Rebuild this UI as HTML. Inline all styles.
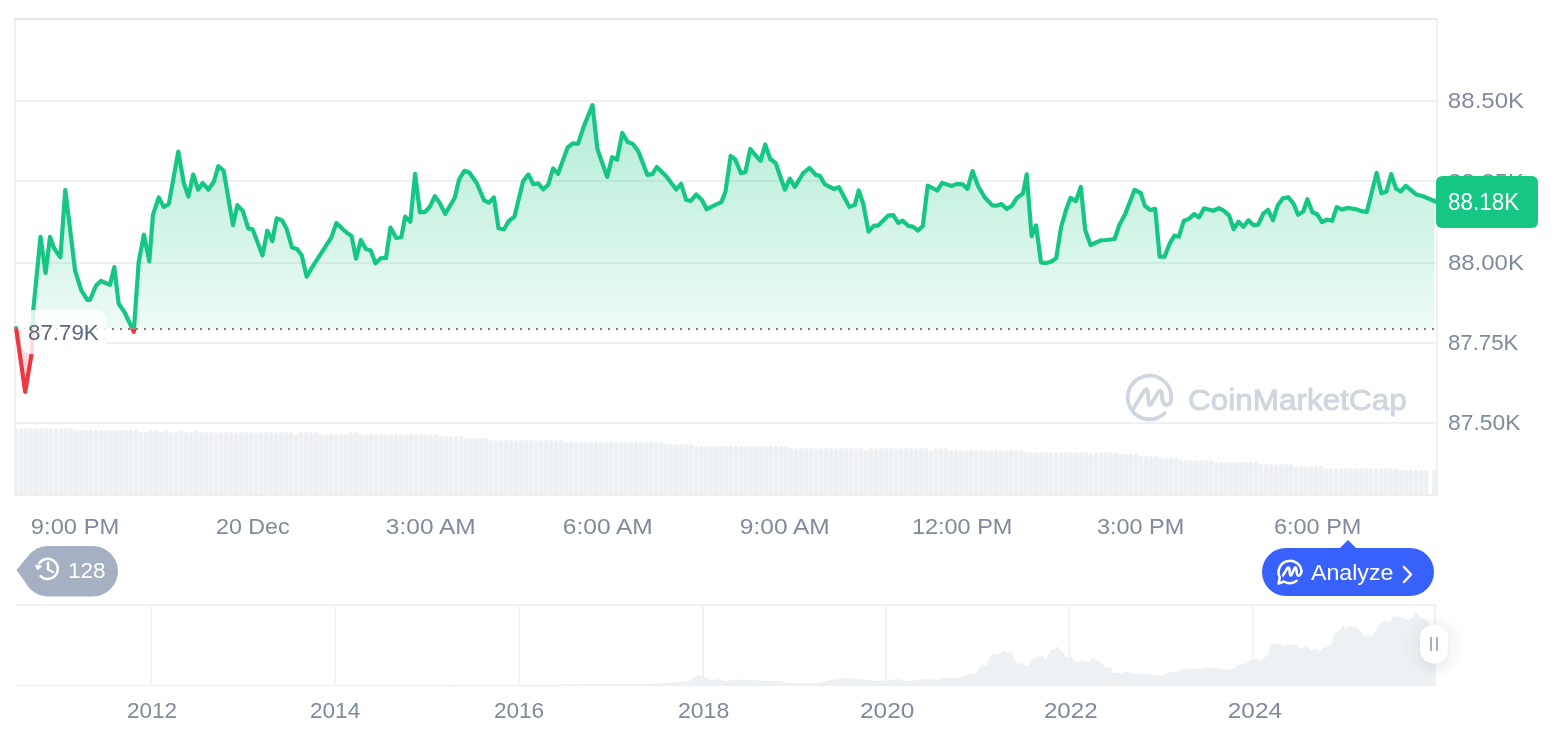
<!DOCTYPE html>
<html><head><meta charset="utf-8"><style>
html,body{margin:0;padding:0;background:#fff;width:1566px;height:732px;overflow:hidden}
svg{display:block;will-change:transform}
text{font-family:"Liberation Sans",sans-serif}
</style></head><body>
<svg width="1566" height="732" viewBox="0 0 1566 732">
<defs>
<linearGradient id="gg" gradientUnits="userSpaceOnUse" x1="0" y1="105" x2="0" y2="328.5">
<stop offset="0" stop-color="#16c784" stop-opacity="0.33"/>
<stop offset="1" stop-color="#16c784" stop-opacity="0.075"/>
</linearGradient>
<linearGradient id="rg" gradientUnits="userSpaceOnUse" x1="0" y1="328.5" x2="0" y2="395">
<stop offset="0" stop-color="#ea3943" stop-opacity="0.08"/>
<stop offset="1" stop-color="#ea3943" stop-opacity="0.3"/>
</linearGradient>
<clipPath id="plot"><rect x="16" y="0" width="1420" height="494"/></clipPath>
<clipPath id="above"><rect x="0" y="0" width="1566" height="328.5"/></clipPath>
<clipPath id="aboveF"><rect x="0" y="0" width="1434.5" height="328.5"/></clipPath>
<clipPath id="below"><rect x="0" y="328.5" width="1566" height="732"/></clipPath>
<radialGradient id="glow"><stop offset="0.4" stop-color="#8a96ab" stop-opacity="0.0"/><stop offset="0.8" stop-color="#8a96ab" stop-opacity="0.045"/><stop offset="1" stop-color="#8a96ab" stop-opacity="0"/></radialGradient>
<filter id="sh" x="-150%" y="-150%" width="400%" height="400%"><feDropShadow dx="0" dy="2" stdDeviation="5" flood-color="#58667e" flood-opacity="0.16"/></filter>
</defs>

<!-- chart frame -->
<rect x="14" y="18" width="2" height="477" fill="#f0f0f0"/>
<rect x="1436" y="18" width="2" height="477" fill="#f0f0f0"/>
<rect x="14" y="18" width="1424" height="2" fill="#e6e6e6"/>
<g fill="#eff0f1">
<rect x="16" y="100" width="1420" height="2"/>
<rect x="16" y="180" width="1420" height="2"/>
<rect x="16" y="262" width="1420" height="2"/>
<rect x="16" y="342" width="1420" height="2"/>
<rect x="16" y="422" width="1420" height="2"/>
</g>
<g fill="#eef1f4" clip-path="url(#plot)"><rect x="13.90" y="428.0" width="4.45" height="66.5" rx="1.9"/><rect x="13.90" y="431.0" width="4.45" height="63.5"/><rect x="18.90" y="428.0" width="4.45" height="66.5" rx="1.9"/><rect x="18.90" y="431.0" width="4.45" height="63.5"/><rect x="23.90" y="428.0" width="4.45" height="66.5" rx="1.9"/><rect x="23.90" y="431.0" width="4.45" height="63.5"/><rect x="28.90" y="428.0" width="4.45" height="66.5" rx="1.9"/><rect x="28.90" y="431.0" width="4.45" height="63.5"/><rect x="33.90" y="428.0" width="4.45" height="66.5" rx="1.9"/><rect x="33.90" y="431.0" width="4.45" height="63.5"/><rect x="38.90" y="428.0" width="4.45" height="66.5" rx="1.9"/><rect x="38.90" y="431.0" width="4.45" height="63.5"/><rect x="43.90" y="428.0" width="4.45" height="66.5" rx="1.9"/><rect x="43.90" y="431.0" width="4.45" height="63.5"/><rect x="48.90" y="428.0" width="4.45" height="66.5" rx="1.9"/><rect x="48.90" y="431.0" width="4.45" height="63.5"/><rect x="53.90" y="428.0" width="4.45" height="66.5" rx="1.9"/><rect x="53.90" y="431.0" width="4.45" height="63.5"/><rect x="58.90" y="428.0" width="4.45" height="66.5" rx="1.9"/><rect x="58.90" y="431.0" width="4.45" height="63.5"/><rect x="63.90" y="428.0" width="4.45" height="66.5" rx="1.9"/><rect x="63.90" y="431.0" width="4.45" height="63.5"/><rect x="68.90" y="428.0" width="4.45" height="66.5" rx="1.9"/><rect x="68.90" y="431.0" width="4.45" height="63.5"/><rect x="73.90" y="430.0" width="4.45" height="64.5" rx="1.9"/><rect x="73.90" y="433.0" width="4.45" height="61.5"/><rect x="78.90" y="430.0" width="4.45" height="64.5" rx="1.9"/><rect x="78.90" y="433.0" width="4.45" height="61.5"/><rect x="83.90" y="430.0" width="4.45" height="64.5" rx="1.9"/><rect x="83.90" y="433.0" width="4.45" height="61.5"/><rect x="88.90" y="430.0" width="4.45" height="64.5" rx="1.9"/><rect x="88.90" y="433.0" width="4.45" height="61.5"/><rect x="93.90" y="430.0" width="4.45" height="64.5" rx="1.9"/><rect x="93.90" y="433.0" width="4.45" height="61.5"/><rect x="98.90" y="430.0" width="4.45" height="64.5" rx="1.9"/><rect x="98.90" y="433.0" width="4.45" height="61.5"/><rect x="103.90" y="430.0" width="4.45" height="64.5" rx="1.9"/><rect x="103.90" y="433.0" width="4.45" height="61.5"/><rect x="108.90" y="430.0" width="4.45" height="64.5" rx="1.9"/><rect x="108.90" y="433.0" width="4.45" height="61.5"/><rect x="113.90" y="430.0" width="4.45" height="64.5" rx="1.9"/><rect x="113.90" y="433.0" width="4.45" height="61.5"/><rect x="118.90" y="430.0" width="4.45" height="64.5" rx="1.9"/><rect x="118.90" y="433.0" width="4.45" height="61.5"/><rect x="123.90" y="430.0" width="4.45" height="64.5" rx="1.9"/><rect x="123.90" y="433.0" width="4.45" height="61.5"/><rect x="128.90" y="430.0" width="4.45" height="64.5" rx="1.9"/><rect x="128.90" y="433.0" width="4.45" height="61.5"/><rect x="133.90" y="430.0" width="4.45" height="64.5" rx="1.9"/><rect x="133.90" y="433.0" width="4.45" height="61.5"/><rect x="138.90" y="432.0" width="4.45" height="62.5" rx="1.9"/><rect x="138.90" y="435.0" width="4.45" height="59.5"/><rect x="143.90" y="432.0" width="4.45" height="62.5" rx="1.9"/><rect x="143.90" y="435.0" width="4.45" height="59.5"/><rect x="148.90" y="430.0" width="4.45" height="64.5" rx="1.9"/><rect x="148.90" y="433.0" width="4.45" height="61.5"/><rect x="153.90" y="430.0" width="4.45" height="64.5" rx="1.9"/><rect x="153.90" y="433.0" width="4.45" height="61.5"/><rect x="158.90" y="432.0" width="4.45" height="62.5" rx="1.9"/><rect x="158.90" y="435.0" width="4.45" height="59.5"/><rect x="163.90" y="430.0" width="4.45" height="64.5" rx="1.9"/><rect x="163.90" y="433.0" width="4.45" height="61.5"/><rect x="168.90" y="432.0" width="4.45" height="62.5" rx="1.9"/><rect x="168.90" y="435.0" width="4.45" height="59.5"/><rect x="173.90" y="432.0" width="4.45" height="62.5" rx="1.9"/><rect x="173.90" y="435.0" width="4.45" height="59.5"/><rect x="178.90" y="430.0" width="4.45" height="64.5" rx="1.9"/><rect x="178.90" y="433.0" width="4.45" height="61.5"/><rect x="183.90" y="432.0" width="4.45" height="62.5" rx="1.9"/><rect x="183.90" y="435.0" width="4.45" height="59.5"/><rect x="188.90" y="432.0" width="4.45" height="62.5" rx="1.9"/><rect x="188.90" y="435.0" width="4.45" height="59.5"/><rect x="193.90" y="430.0" width="4.45" height="64.5" rx="1.9"/><rect x="193.90" y="433.0" width="4.45" height="61.5"/><rect x="198.90" y="432.0" width="4.45" height="62.5" rx="1.9"/><rect x="198.90" y="435.0" width="4.45" height="59.5"/><rect x="203.90" y="432.0" width="4.45" height="62.5" rx="1.9"/><rect x="203.90" y="435.0" width="4.45" height="59.5"/><rect x="208.90" y="432.0" width="4.45" height="62.5" rx="1.9"/><rect x="208.90" y="435.0" width="4.45" height="59.5"/><rect x="213.90" y="432.0" width="4.45" height="62.5" rx="1.9"/><rect x="213.90" y="435.0" width="4.45" height="59.5"/><rect x="218.90" y="432.0" width="4.45" height="62.5" rx="1.9"/><rect x="218.90" y="435.0" width="4.45" height="59.5"/><rect x="223.90" y="432.0" width="4.45" height="62.5" rx="1.9"/><rect x="223.90" y="435.0" width="4.45" height="59.5"/><rect x="228.90" y="432.0" width="4.45" height="62.5" rx="1.9"/><rect x="228.90" y="435.0" width="4.45" height="59.5"/><rect x="233.90" y="432.0" width="4.45" height="62.5" rx="1.9"/><rect x="233.90" y="435.0" width="4.45" height="59.5"/><rect x="238.90" y="432.0" width="4.45" height="62.5" rx="1.9"/><rect x="238.90" y="435.0" width="4.45" height="59.5"/><rect x="243.90" y="432.0" width="4.45" height="62.5" rx="1.9"/><rect x="243.90" y="435.0" width="4.45" height="59.5"/><rect x="248.90" y="432.0" width="4.45" height="62.5" rx="1.9"/><rect x="248.90" y="435.0" width="4.45" height="59.5"/><rect x="253.90" y="432.0" width="4.45" height="62.5" rx="1.9"/><rect x="253.90" y="435.0" width="4.45" height="59.5"/><rect x="258.90" y="432.0" width="4.45" height="62.5" rx="1.9"/><rect x="258.90" y="435.0" width="4.45" height="59.5"/><rect x="263.90" y="432.0" width="4.45" height="62.5" rx="1.9"/><rect x="263.90" y="435.0" width="4.45" height="59.5"/><rect x="268.90" y="432.0" width="4.45" height="62.5" rx="1.9"/><rect x="268.90" y="435.0" width="4.45" height="59.5"/><rect x="273.90" y="432.0" width="4.45" height="62.5" rx="1.9"/><rect x="273.90" y="435.0" width="4.45" height="59.5"/><rect x="278.90" y="432.0" width="4.45" height="62.5" rx="1.9"/><rect x="278.90" y="435.0" width="4.45" height="59.5"/><rect x="283.90" y="432.0" width="4.45" height="62.5" rx="1.9"/><rect x="283.90" y="435.0" width="4.45" height="59.5"/><rect x="288.90" y="432.0" width="4.45" height="62.5" rx="1.9"/><rect x="288.90" y="435.0" width="4.45" height="59.5"/><rect x="293.90" y="434.0" width="4.45" height="60.5" rx="1.9"/><rect x="293.90" y="437.0" width="4.45" height="57.5"/><rect x="298.90" y="432.0" width="4.45" height="62.5" rx="1.9"/><rect x="298.90" y="435.0" width="4.45" height="59.5"/><rect x="303.90" y="432.0" width="4.45" height="62.5" rx="1.9"/><rect x="303.90" y="435.0" width="4.45" height="59.5"/><rect x="308.90" y="432.0" width="4.45" height="62.5" rx="1.9"/><rect x="308.90" y="435.0" width="4.45" height="59.5"/><rect x="313.90" y="432.0" width="4.45" height="62.5" rx="1.9"/><rect x="313.90" y="435.0" width="4.45" height="59.5"/><rect x="318.90" y="434.0" width="4.45" height="60.5" rx="1.9"/><rect x="318.90" y="437.0" width="4.45" height="57.5"/><rect x="323.90" y="434.0" width="4.45" height="60.5" rx="1.9"/><rect x="323.90" y="437.0" width="4.45" height="57.5"/><rect x="328.90" y="434.0" width="4.45" height="60.5" rx="1.9"/><rect x="328.90" y="437.0" width="4.45" height="57.5"/><rect x="333.90" y="434.0" width="4.45" height="60.5" rx="1.9"/><rect x="333.90" y="437.0" width="4.45" height="57.5"/><rect x="338.90" y="434.0" width="4.45" height="60.5" rx="1.9"/><rect x="338.90" y="437.0" width="4.45" height="57.5"/><rect x="343.90" y="434.0" width="4.45" height="60.5" rx="1.9"/><rect x="343.90" y="437.0" width="4.45" height="57.5"/><rect x="348.90" y="432.0" width="4.45" height="62.5" rx="1.9"/><rect x="348.90" y="435.0" width="4.45" height="59.5"/><rect x="353.90" y="432.0" width="4.45" height="62.5" rx="1.9"/><rect x="353.90" y="435.0" width="4.45" height="59.5"/><rect x="358.90" y="434.0" width="4.45" height="60.5" rx="1.9"/><rect x="358.90" y="437.0" width="4.45" height="57.5"/><rect x="363.90" y="434.0" width="4.45" height="60.5" rx="1.9"/><rect x="363.90" y="437.0" width="4.45" height="57.5"/><rect x="368.90" y="434.0" width="4.45" height="60.5" rx="1.9"/><rect x="368.90" y="437.0" width="4.45" height="57.5"/><rect x="373.90" y="434.0" width="4.45" height="60.5" rx="1.9"/><rect x="373.90" y="437.0" width="4.45" height="57.5"/><rect x="378.90" y="434.0" width="4.45" height="60.5" rx="1.9"/><rect x="378.90" y="437.0" width="4.45" height="57.5"/><rect x="383.90" y="434.0" width="4.45" height="60.5" rx="1.9"/><rect x="383.90" y="437.0" width="4.45" height="57.5"/><rect x="388.90" y="434.0" width="4.45" height="60.5" rx="1.9"/><rect x="388.90" y="437.0" width="4.45" height="57.5"/><rect x="393.90" y="434.0" width="4.45" height="60.5" rx="1.9"/><rect x="393.90" y="437.0" width="4.45" height="57.5"/><rect x="398.90" y="434.0" width="4.45" height="60.5" rx="1.9"/><rect x="398.90" y="437.0" width="4.45" height="57.5"/><rect x="403.90" y="434.0" width="4.45" height="60.5" rx="1.9"/><rect x="403.90" y="437.0" width="4.45" height="57.5"/><rect x="408.90" y="434.0" width="4.45" height="60.5" rx="1.9"/><rect x="408.90" y="437.0" width="4.45" height="57.5"/><rect x="413.90" y="434.0" width="4.45" height="60.5" rx="1.9"/><rect x="413.90" y="437.0" width="4.45" height="57.5"/><rect x="418.90" y="434.0" width="4.45" height="60.5" rx="1.9"/><rect x="418.90" y="437.0" width="4.45" height="57.5"/><rect x="423.90" y="434.0" width="4.45" height="60.5" rx="1.9"/><rect x="423.90" y="437.0" width="4.45" height="57.5"/><rect x="428.90" y="434.0" width="4.45" height="60.5" rx="1.9"/><rect x="428.90" y="437.0" width="4.45" height="57.5"/><rect x="433.90" y="434.0" width="4.45" height="60.5" rx="1.9"/><rect x="433.90" y="437.0" width="4.45" height="57.5"/><rect x="438.90" y="436.0" width="4.45" height="58.5" rx="1.9"/><rect x="438.90" y="439.0" width="4.45" height="55.5"/><rect x="443.90" y="436.0" width="4.45" height="58.5" rx="1.9"/><rect x="443.90" y="439.0" width="4.45" height="55.5"/><rect x="448.90" y="436.0" width="4.45" height="58.5" rx="1.9"/><rect x="448.90" y="439.0" width="4.45" height="55.5"/><rect x="453.90" y="436.0" width="4.45" height="58.5" rx="1.9"/><rect x="453.90" y="439.0" width="4.45" height="55.5"/><rect x="458.90" y="436.0" width="4.45" height="58.5" rx="1.9"/><rect x="458.90" y="439.0" width="4.45" height="55.5"/><rect x="463.90" y="438.0" width="4.45" height="56.5" rx="1.9"/><rect x="463.90" y="441.0" width="4.45" height="53.5"/><rect x="468.90" y="438.0" width="4.45" height="56.5" rx="1.9"/><rect x="468.90" y="441.0" width="4.45" height="53.5"/><rect x="473.90" y="438.0" width="4.45" height="56.5" rx="1.9"/><rect x="473.90" y="441.0" width="4.45" height="53.5"/><rect x="478.90" y="438.0" width="4.45" height="56.5" rx="1.9"/><rect x="478.90" y="441.0" width="4.45" height="53.5"/><rect x="483.90" y="438.0" width="4.45" height="56.5" rx="1.9"/><rect x="483.90" y="441.0" width="4.45" height="53.5"/><rect x="488.90" y="440.0" width="4.45" height="54.5" rx="1.9"/><rect x="488.90" y="443.0" width="4.45" height="51.5"/><rect x="493.90" y="440.0" width="4.45" height="54.5" rx="1.9"/><rect x="493.90" y="443.0" width="4.45" height="51.5"/><rect x="498.90" y="440.0" width="4.45" height="54.5" rx="1.9"/><rect x="498.90" y="443.0" width="4.45" height="51.5"/><rect x="503.90" y="440.0" width="4.45" height="54.5" rx="1.9"/><rect x="503.90" y="443.0" width="4.45" height="51.5"/><rect x="508.90" y="440.0" width="4.45" height="54.5" rx="1.9"/><rect x="508.90" y="443.0" width="4.45" height="51.5"/><rect x="513.90" y="440.0" width="4.45" height="54.5" rx="1.9"/><rect x="513.90" y="443.0" width="4.45" height="51.5"/><rect x="518.90" y="440.0" width="4.45" height="54.5" rx="1.9"/><rect x="518.90" y="443.0" width="4.45" height="51.5"/><rect x="523.90" y="440.0" width="4.45" height="54.5" rx="1.9"/><rect x="523.90" y="443.0" width="4.45" height="51.5"/><rect x="528.90" y="440.0" width="4.45" height="54.5" rx="1.9"/><rect x="528.90" y="443.0" width="4.45" height="51.5"/><rect x="533.90" y="440.0" width="4.45" height="54.5" rx="1.9"/><rect x="533.90" y="443.0" width="4.45" height="51.5"/><rect x="538.90" y="440.0" width="4.45" height="54.5" rx="1.9"/><rect x="538.90" y="443.0" width="4.45" height="51.5"/><rect x="543.90" y="440.0" width="4.45" height="54.5" rx="1.9"/><rect x="543.90" y="443.0" width="4.45" height="51.5"/><rect x="548.90" y="440.0" width="4.45" height="54.5" rx="1.9"/><rect x="548.90" y="443.0" width="4.45" height="51.5"/><rect x="553.90" y="440.0" width="4.45" height="54.5" rx="1.9"/><rect x="553.90" y="443.0" width="4.45" height="51.5"/><rect x="558.90" y="440.0" width="4.45" height="54.5" rx="1.9"/><rect x="558.90" y="443.0" width="4.45" height="51.5"/><rect x="563.90" y="442.0" width="4.45" height="52.5" rx="1.9"/><rect x="563.90" y="445.0" width="4.45" height="49.5"/><rect x="568.90" y="442.0" width="4.45" height="52.5" rx="1.9"/><rect x="568.90" y="445.0" width="4.45" height="49.5"/><rect x="573.90" y="442.0" width="4.45" height="52.5" rx="1.9"/><rect x="573.90" y="445.0" width="4.45" height="49.5"/><rect x="578.90" y="442.0" width="4.45" height="52.5" rx="1.9"/><rect x="578.90" y="445.0" width="4.45" height="49.5"/><rect x="583.90" y="442.0" width="4.45" height="52.5" rx="1.9"/><rect x="583.90" y="445.0" width="4.45" height="49.5"/><rect x="588.90" y="442.0" width="4.45" height="52.5" rx="1.9"/><rect x="588.90" y="445.0" width="4.45" height="49.5"/><rect x="593.90" y="442.0" width="4.45" height="52.5" rx="1.9"/><rect x="593.90" y="445.0" width="4.45" height="49.5"/><rect x="598.90" y="442.0" width="4.45" height="52.5" rx="1.9"/><rect x="598.90" y="445.0" width="4.45" height="49.5"/><rect x="603.90" y="442.0" width="4.45" height="52.5" rx="1.9"/><rect x="603.90" y="445.0" width="4.45" height="49.5"/><rect x="608.90" y="442.0" width="4.45" height="52.5" rx="1.9"/><rect x="608.90" y="445.0" width="4.45" height="49.5"/><rect x="613.90" y="442.0" width="4.45" height="52.5" rx="1.9"/><rect x="613.90" y="445.0" width="4.45" height="49.5"/><rect x="618.90" y="442.0" width="4.45" height="52.5" rx="1.9"/><rect x="618.90" y="445.0" width="4.45" height="49.5"/><rect x="623.90" y="442.0" width="4.45" height="52.5" rx="1.9"/><rect x="623.90" y="445.0" width="4.45" height="49.5"/><rect x="628.90" y="442.0" width="4.45" height="52.5" rx="1.9"/><rect x="628.90" y="445.0" width="4.45" height="49.5"/><rect x="633.90" y="442.0" width="4.45" height="52.5" rx="1.9"/><rect x="633.90" y="445.0" width="4.45" height="49.5"/><rect x="638.90" y="442.0" width="4.45" height="52.5" rx="1.9"/><rect x="638.90" y="445.0" width="4.45" height="49.5"/><rect x="643.90" y="442.0" width="4.45" height="52.5" rx="1.9"/><rect x="643.90" y="445.0" width="4.45" height="49.5"/><rect x="648.90" y="442.0" width="4.45" height="52.5" rx="1.9"/><rect x="648.90" y="445.0" width="4.45" height="49.5"/><rect x="653.90" y="442.0" width="4.45" height="52.5" rx="1.9"/><rect x="653.90" y="445.0" width="4.45" height="49.5"/><rect x="658.90" y="442.0" width="4.45" height="52.5" rx="1.9"/><rect x="658.90" y="445.0" width="4.45" height="49.5"/><rect x="663.90" y="444.0" width="4.45" height="50.5" rx="1.9"/><rect x="663.90" y="447.0" width="4.45" height="47.5"/><rect x="668.90" y="444.0" width="4.45" height="50.5" rx="1.9"/><rect x="668.90" y="447.0" width="4.45" height="47.5"/><rect x="673.90" y="444.0" width="4.45" height="50.5" rx="1.9"/><rect x="673.90" y="447.0" width="4.45" height="47.5"/><rect x="678.90" y="444.0" width="4.45" height="50.5" rx="1.9"/><rect x="678.90" y="447.0" width="4.45" height="47.5"/><rect x="683.90" y="444.0" width="4.45" height="50.5" rx="1.9"/><rect x="683.90" y="447.0" width="4.45" height="47.5"/><rect x="688.90" y="444.0" width="4.45" height="50.5" rx="1.9"/><rect x="688.90" y="447.0" width="4.45" height="47.5"/><rect x="693.90" y="446.0" width="4.45" height="48.5" rx="1.9"/><rect x="693.90" y="449.0" width="4.45" height="45.5"/><rect x="698.90" y="446.0" width="4.45" height="48.5" rx="1.9"/><rect x="698.90" y="449.0" width="4.45" height="45.5"/><rect x="703.90" y="446.0" width="4.45" height="48.5" rx="1.9"/><rect x="703.90" y="449.0" width="4.45" height="45.5"/><rect x="708.90" y="446.0" width="4.45" height="48.5" rx="1.9"/><rect x="708.90" y="449.0" width="4.45" height="45.5"/><rect x="713.90" y="446.0" width="4.45" height="48.5" rx="1.9"/><rect x="713.90" y="449.0" width="4.45" height="45.5"/><rect x="718.90" y="446.0" width="4.45" height="48.5" rx="1.9"/><rect x="718.90" y="449.0" width="4.45" height="45.5"/><rect x="723.90" y="446.0" width="4.45" height="48.5" rx="1.9"/><rect x="723.90" y="449.0" width="4.45" height="45.5"/><rect x="728.90" y="446.0" width="4.45" height="48.5" rx="1.9"/><rect x="728.90" y="449.0" width="4.45" height="45.5"/><rect x="733.90" y="446.0" width="4.45" height="48.5" rx="1.9"/><rect x="733.90" y="449.0" width="4.45" height="45.5"/><rect x="738.90" y="446.0" width="4.45" height="48.5" rx="1.9"/><rect x="738.90" y="449.0" width="4.45" height="45.5"/><rect x="743.90" y="446.0" width="4.45" height="48.5" rx="1.9"/><rect x="743.90" y="449.0" width="4.45" height="45.5"/><rect x="748.90" y="446.0" width="4.45" height="48.5" rx="1.9"/><rect x="748.90" y="449.0" width="4.45" height="45.5"/><rect x="753.90" y="446.0" width="4.45" height="48.5" rx="1.9"/><rect x="753.90" y="449.0" width="4.45" height="45.5"/><rect x="758.90" y="446.0" width="4.45" height="48.5" rx="1.9"/><rect x="758.90" y="449.0" width="4.45" height="45.5"/><rect x="763.90" y="446.0" width="4.45" height="48.5" rx="1.9"/><rect x="763.90" y="449.0" width="4.45" height="45.5"/><rect x="768.90" y="446.0" width="4.45" height="48.5" rx="1.9"/><rect x="768.90" y="449.0" width="4.45" height="45.5"/><rect x="773.90" y="446.0" width="4.45" height="48.5" rx="1.9"/><rect x="773.90" y="449.0" width="4.45" height="45.5"/><rect x="778.90" y="446.0" width="4.45" height="48.5" rx="1.9"/><rect x="778.90" y="449.0" width="4.45" height="45.5"/><rect x="783.90" y="446.0" width="4.45" height="48.5" rx="1.9"/><rect x="783.90" y="449.0" width="4.45" height="45.5"/><rect x="788.90" y="448.0" width="4.45" height="46.5" rx="1.9"/><rect x="788.90" y="451.0" width="4.45" height="43.5"/><rect x="793.90" y="448.0" width="4.45" height="46.5" rx="1.9"/><rect x="793.90" y="451.0" width="4.45" height="43.5"/><rect x="798.90" y="448.0" width="4.45" height="46.5" rx="1.9"/><rect x="798.90" y="451.0" width="4.45" height="43.5"/><rect x="803.90" y="448.0" width="4.45" height="46.5" rx="1.9"/><rect x="803.90" y="451.0" width="4.45" height="43.5"/><rect x="808.90" y="448.0" width="4.45" height="46.5" rx="1.9"/><rect x="808.90" y="451.0" width="4.45" height="43.5"/><rect x="813.90" y="448.0" width="4.45" height="46.5" rx="1.9"/><rect x="813.90" y="451.0" width="4.45" height="43.5"/><rect x="818.90" y="448.0" width="4.45" height="46.5" rx="1.9"/><rect x="818.90" y="451.0" width="4.45" height="43.5"/><rect x="823.90" y="448.0" width="4.45" height="46.5" rx="1.9"/><rect x="823.90" y="451.0" width="4.45" height="43.5"/><rect x="828.90" y="448.0" width="4.45" height="46.5" rx="1.9"/><rect x="828.90" y="451.0" width="4.45" height="43.5"/><rect x="833.90" y="448.0" width="4.45" height="46.5" rx="1.9"/><rect x="833.90" y="451.0" width="4.45" height="43.5"/><rect x="838.90" y="448.0" width="4.45" height="46.5" rx="1.9"/><rect x="838.90" y="451.0" width="4.45" height="43.5"/><rect x="843.90" y="448.0" width="4.45" height="46.5" rx="1.9"/><rect x="843.90" y="451.0" width="4.45" height="43.5"/><rect x="848.90" y="448.0" width="4.45" height="46.5" rx="1.9"/><rect x="848.90" y="451.0" width="4.45" height="43.5"/><rect x="853.90" y="448.0" width="4.45" height="46.5" rx="1.9"/><rect x="853.90" y="451.0" width="4.45" height="43.5"/><rect x="858.90" y="448.0" width="4.45" height="46.5" rx="1.9"/><rect x="858.90" y="451.0" width="4.45" height="43.5"/><rect x="863.90" y="450.0" width="4.45" height="44.5" rx="1.9"/><rect x="863.90" y="453.0" width="4.45" height="41.5"/><rect x="868.90" y="448.0" width="4.45" height="46.5" rx="1.9"/><rect x="868.90" y="451.0" width="4.45" height="43.5"/><rect x="873.90" y="448.0" width="4.45" height="46.5" rx="1.9"/><rect x="873.90" y="451.0" width="4.45" height="43.5"/><rect x="878.90" y="448.0" width="4.45" height="46.5" rx="1.9"/><rect x="878.90" y="451.0" width="4.45" height="43.5"/><rect x="883.90" y="448.0" width="4.45" height="46.5" rx="1.9"/><rect x="883.90" y="451.0" width="4.45" height="43.5"/><rect x="888.90" y="448.0" width="4.45" height="46.5" rx="1.9"/><rect x="888.90" y="451.0" width="4.45" height="43.5"/><rect x="893.90" y="448.0" width="4.45" height="46.5" rx="1.9"/><rect x="893.90" y="451.0" width="4.45" height="43.5"/><rect x="898.90" y="448.0" width="4.45" height="46.5" rx="1.9"/><rect x="898.90" y="451.0" width="4.45" height="43.5"/><rect x="903.90" y="448.0" width="4.45" height="46.5" rx="1.9"/><rect x="903.90" y="451.0" width="4.45" height="43.5"/><rect x="908.90" y="448.0" width="4.45" height="46.5" rx="1.9"/><rect x="908.90" y="451.0" width="4.45" height="43.5"/><rect x="913.90" y="448.0" width="4.45" height="46.5" rx="1.9"/><rect x="913.90" y="451.0" width="4.45" height="43.5"/><rect x="918.90" y="448.0" width="4.45" height="46.5" rx="1.9"/><rect x="918.90" y="451.0" width="4.45" height="43.5"/><rect x="923.90" y="448.0" width="4.45" height="46.5" rx="1.9"/><rect x="923.90" y="451.0" width="4.45" height="43.5"/><rect x="928.90" y="450.0" width="4.45" height="44.5" rx="1.9"/><rect x="928.90" y="453.0" width="4.45" height="41.5"/><rect x="933.90" y="448.0" width="4.45" height="46.5" rx="1.9"/><rect x="933.90" y="451.0" width="4.45" height="43.5"/><rect x="938.90" y="448.0" width="4.45" height="46.5" rx="1.9"/><rect x="938.90" y="451.0" width="4.45" height="43.5"/><rect x="943.90" y="448.0" width="4.45" height="46.5" rx="1.9"/><rect x="943.90" y="451.0" width="4.45" height="43.5"/><rect x="948.90" y="450.0" width="4.45" height="44.5" rx="1.9"/><rect x="948.90" y="453.0" width="4.45" height="41.5"/><rect x="953.90" y="450.0" width="4.45" height="44.5" rx="1.9"/><rect x="953.90" y="453.0" width="4.45" height="41.5"/><rect x="958.90" y="450.0" width="4.45" height="44.5" rx="1.9"/><rect x="958.90" y="453.0" width="4.45" height="41.5"/><rect x="963.90" y="450.0" width="4.45" height="44.5" rx="1.9"/><rect x="963.90" y="453.0" width="4.45" height="41.5"/><rect x="968.90" y="450.0" width="4.45" height="44.5" rx="1.9"/><rect x="968.90" y="453.0" width="4.45" height="41.5"/><rect x="973.90" y="450.0" width="4.45" height="44.5" rx="1.9"/><rect x="973.90" y="453.0" width="4.45" height="41.5"/><rect x="978.90" y="450.0" width="4.45" height="44.5" rx="1.9"/><rect x="978.90" y="453.0" width="4.45" height="41.5"/><rect x="983.90" y="450.0" width="4.45" height="44.5" rx="1.9"/><rect x="983.90" y="453.0" width="4.45" height="41.5"/><rect x="988.90" y="450.0" width="4.45" height="44.5" rx="1.9"/><rect x="988.90" y="453.0" width="4.45" height="41.5"/><rect x="993.90" y="450.0" width="4.45" height="44.5" rx="1.9"/><rect x="993.90" y="453.0" width="4.45" height="41.5"/><rect x="998.90" y="450.0" width="4.45" height="44.5" rx="1.9"/><rect x="998.90" y="453.0" width="4.45" height="41.5"/><rect x="1003.90" y="450.0" width="4.45" height="44.5" rx="1.9"/><rect x="1003.90" y="453.0" width="4.45" height="41.5"/><rect x="1008.90" y="450.0" width="4.45" height="44.5" rx="1.9"/><rect x="1008.90" y="453.0" width="4.45" height="41.5"/><rect x="1013.90" y="450.0" width="4.45" height="44.5" rx="1.9"/><rect x="1013.90" y="453.0" width="4.45" height="41.5"/><rect x="1018.90" y="450.0" width="4.45" height="44.5" rx="1.9"/><rect x="1018.90" y="453.0" width="4.45" height="41.5"/><rect x="1023.90" y="452.0" width="4.45" height="42.5" rx="1.9"/><rect x="1023.90" y="455.0" width="4.45" height="39.5"/><rect x="1028.90" y="452.0" width="4.45" height="42.5" rx="1.9"/><rect x="1028.90" y="455.0" width="4.45" height="39.5"/><rect x="1033.90" y="452.0" width="4.45" height="42.5" rx="1.9"/><rect x="1033.90" y="455.0" width="4.45" height="39.5"/><rect x="1038.90" y="452.0" width="4.45" height="42.5" rx="1.9"/><rect x="1038.90" y="455.0" width="4.45" height="39.5"/><rect x="1043.90" y="452.0" width="4.45" height="42.5" rx="1.9"/><rect x="1043.90" y="455.0" width="4.45" height="39.5"/><rect x="1048.90" y="452.0" width="4.45" height="42.5" rx="1.9"/><rect x="1048.90" y="455.0" width="4.45" height="39.5"/><rect x="1053.90" y="452.0" width="4.45" height="42.5" rx="1.9"/><rect x="1053.90" y="455.0" width="4.45" height="39.5"/><rect x="1058.90" y="452.0" width="4.45" height="42.5" rx="1.9"/><rect x="1058.90" y="455.0" width="4.45" height="39.5"/><rect x="1063.90" y="452.0" width="4.45" height="42.5" rx="1.9"/><rect x="1063.90" y="455.0" width="4.45" height="39.5"/><rect x="1068.90" y="452.0" width="4.45" height="42.5" rx="1.9"/><rect x="1068.90" y="455.0" width="4.45" height="39.5"/><rect x="1073.90" y="452.0" width="4.45" height="42.5" rx="1.9"/><rect x="1073.90" y="455.0" width="4.45" height="39.5"/><rect x="1078.90" y="452.0" width="4.45" height="42.5" rx="1.9"/><rect x="1078.90" y="455.0" width="4.45" height="39.5"/><rect x="1083.90" y="452.0" width="4.45" height="42.5" rx="1.9"/><rect x="1083.90" y="455.0" width="4.45" height="39.5"/><rect x="1088.90" y="454.0" width="4.45" height="40.5" rx="1.9"/><rect x="1088.90" y="457.0" width="4.45" height="37.5"/><rect x="1093.90" y="452.0" width="4.45" height="42.5" rx="1.9"/><rect x="1093.90" y="455.0" width="4.45" height="39.5"/><rect x="1098.90" y="452.0" width="4.45" height="42.5" rx="1.9"/><rect x="1098.90" y="455.0" width="4.45" height="39.5"/><rect x="1103.90" y="452.0" width="4.45" height="42.5" rx="1.9"/><rect x="1103.90" y="455.0" width="4.45" height="39.5"/><rect x="1108.90" y="452.0" width="4.45" height="42.5" rx="1.9"/><rect x="1108.90" y="455.0" width="4.45" height="39.5"/><rect x="1113.90" y="452.0" width="4.45" height="42.5" rx="1.9"/><rect x="1113.90" y="455.0" width="4.45" height="39.5"/><rect x="1118.90" y="454.0" width="4.45" height="40.5" rx="1.9"/><rect x="1118.90" y="457.0" width="4.45" height="37.5"/><rect x="1123.90" y="454.0" width="4.45" height="40.5" rx="1.9"/><rect x="1123.90" y="457.0" width="4.45" height="37.5"/><rect x="1128.90" y="454.0" width="4.45" height="40.5" rx="1.9"/><rect x="1128.90" y="457.0" width="4.45" height="37.5"/><rect x="1133.90" y="454.0" width="4.45" height="40.5" rx="1.9"/><rect x="1133.90" y="457.0" width="4.45" height="37.5"/><rect x="1138.90" y="456.0" width="4.45" height="38.5" rx="1.9"/><rect x="1138.90" y="459.0" width="4.45" height="35.5"/><rect x="1143.90" y="456.0" width="4.45" height="38.5" rx="1.9"/><rect x="1143.90" y="459.0" width="4.45" height="35.5"/><rect x="1148.90" y="456.0" width="4.45" height="38.5" rx="1.9"/><rect x="1148.90" y="459.0" width="4.45" height="35.5"/><rect x="1153.90" y="456.0" width="4.45" height="38.5" rx="1.9"/><rect x="1153.90" y="459.0" width="4.45" height="35.5"/><rect x="1158.90" y="458.0" width="4.45" height="36.5" rx="1.9"/><rect x="1158.90" y="461.0" width="4.45" height="33.5"/><rect x="1163.90" y="458.0" width="4.45" height="36.5" rx="1.9"/><rect x="1163.90" y="461.0" width="4.45" height="33.5"/><rect x="1168.90" y="458.0" width="4.45" height="36.5" rx="1.9"/><rect x="1168.90" y="461.0" width="4.45" height="33.5"/><rect x="1173.90" y="458.0" width="4.45" height="36.5" rx="1.9"/><rect x="1173.90" y="461.0" width="4.45" height="33.5"/><rect x="1178.90" y="460.0" width="4.45" height="34.5" rx="1.9"/><rect x="1178.90" y="463.0" width="4.45" height="31.5"/><rect x="1183.90" y="460.0" width="4.45" height="34.5" rx="1.9"/><rect x="1183.90" y="463.0" width="4.45" height="31.5"/><rect x="1188.90" y="460.0" width="4.45" height="34.5" rx="1.9"/><rect x="1188.90" y="463.0" width="4.45" height="31.5"/><rect x="1193.90" y="460.0" width="4.45" height="34.5" rx="1.9"/><rect x="1193.90" y="463.0" width="4.45" height="31.5"/><rect x="1198.90" y="460.0" width="4.45" height="34.5" rx="1.9"/><rect x="1198.90" y="463.0" width="4.45" height="31.5"/><rect x="1203.90" y="460.0" width="4.45" height="34.5" rx="1.9"/><rect x="1203.90" y="463.0" width="4.45" height="31.5"/><rect x="1208.90" y="460.0" width="4.45" height="34.5" rx="1.9"/><rect x="1208.90" y="463.0" width="4.45" height="31.5"/><rect x="1213.90" y="462.0" width="4.45" height="32.5" rx="1.9"/><rect x="1213.90" y="465.0" width="4.45" height="29.5"/><rect x="1218.90" y="462.0" width="4.45" height="32.5" rx="1.9"/><rect x="1218.90" y="465.0" width="4.45" height="29.5"/><rect x="1223.90" y="462.0" width="4.45" height="32.5" rx="1.9"/><rect x="1223.90" y="465.0" width="4.45" height="29.5"/><rect x="1228.90" y="462.0" width="4.45" height="32.5" rx="1.9"/><rect x="1228.90" y="465.0" width="4.45" height="29.5"/><rect x="1233.90" y="462.0" width="4.45" height="32.5" rx="1.9"/><rect x="1233.90" y="465.0" width="4.45" height="29.5"/><rect x="1238.90" y="462.0" width="4.45" height="32.5" rx="1.9"/><rect x="1238.90" y="465.0" width="4.45" height="29.5"/><rect x="1243.90" y="462.0" width="4.45" height="32.5" rx="1.9"/><rect x="1243.90" y="465.0" width="4.45" height="29.5"/><rect x="1248.90" y="462.0" width="4.45" height="32.5" rx="1.9"/><rect x="1248.90" y="465.0" width="4.45" height="29.5"/><rect x="1253.90" y="462.0" width="4.45" height="32.5" rx="1.9"/><rect x="1253.90" y="465.0" width="4.45" height="29.5"/><rect x="1258.90" y="464.0" width="4.45" height="30.5" rx="1.9"/><rect x="1258.90" y="467.0" width="4.45" height="27.5"/><rect x="1263.90" y="464.0" width="4.45" height="30.5" rx="1.9"/><rect x="1263.90" y="467.0" width="4.45" height="27.5"/><rect x="1268.90" y="464.0" width="4.45" height="30.5" rx="1.9"/><rect x="1268.90" y="467.0" width="4.45" height="27.5"/><rect x="1273.90" y="464.0" width="4.45" height="30.5" rx="1.9"/><rect x="1273.90" y="467.0" width="4.45" height="27.5"/><rect x="1278.90" y="464.0" width="4.45" height="30.5" rx="1.9"/><rect x="1278.90" y="467.0" width="4.45" height="27.5"/><rect x="1283.90" y="464.0" width="4.45" height="30.5" rx="1.9"/><rect x="1283.90" y="467.0" width="4.45" height="27.5"/><rect x="1288.90" y="464.0" width="4.45" height="30.5" rx="1.9"/><rect x="1288.90" y="467.0" width="4.45" height="27.5"/><rect x="1293.90" y="466.0" width="4.45" height="28.5" rx="1.9"/><rect x="1293.90" y="469.0" width="4.45" height="25.5"/><rect x="1298.90" y="466.0" width="4.45" height="28.5" rx="1.9"/><rect x="1298.90" y="469.0" width="4.45" height="25.5"/><rect x="1303.90" y="466.0" width="4.45" height="28.5" rx="1.9"/><rect x="1303.90" y="469.0" width="4.45" height="25.5"/><rect x="1308.90" y="466.0" width="4.45" height="28.5" rx="1.9"/><rect x="1308.90" y="469.0" width="4.45" height="25.5"/><rect x="1313.90" y="466.0" width="4.45" height="28.5" rx="1.9"/><rect x="1313.90" y="469.0" width="4.45" height="25.5"/><rect x="1318.90" y="466.0" width="4.45" height="28.5" rx="1.9"/><rect x="1318.90" y="469.0" width="4.45" height="25.5"/><rect x="1323.90" y="468.0" width="4.45" height="26.5" rx="1.9"/><rect x="1323.90" y="471.0" width="4.45" height="23.5"/><rect x="1328.90" y="468.0" width="4.45" height="26.5" rx="1.9"/><rect x="1328.90" y="471.0" width="4.45" height="23.5"/><rect x="1333.90" y="468.0" width="4.45" height="26.5" rx="1.9"/><rect x="1333.90" y="471.0" width="4.45" height="23.5"/><rect x="1338.90" y="468.0" width="4.45" height="26.5" rx="1.9"/><rect x="1338.90" y="471.0" width="4.45" height="23.5"/><rect x="1343.90" y="468.0" width="4.45" height="26.5" rx="1.9"/><rect x="1343.90" y="471.0" width="4.45" height="23.5"/><rect x="1348.90" y="468.0" width="4.45" height="26.5" rx="1.9"/><rect x="1348.90" y="471.0" width="4.45" height="23.5"/><rect x="1353.90" y="468.0" width="4.45" height="26.5" rx="1.9"/><rect x="1353.90" y="471.0" width="4.45" height="23.5"/><rect x="1358.90" y="468.0" width="4.45" height="26.5" rx="1.9"/><rect x="1358.90" y="471.0" width="4.45" height="23.5"/><rect x="1363.90" y="468.0" width="4.45" height="26.5" rx="1.9"/><rect x="1363.90" y="471.0" width="4.45" height="23.5"/><rect x="1368.90" y="468.0" width="4.45" height="26.5" rx="1.9"/><rect x="1368.90" y="471.0" width="4.45" height="23.5"/><rect x="1373.90" y="468.0" width="4.45" height="26.5" rx="1.9"/><rect x="1373.90" y="471.0" width="4.45" height="23.5"/><rect x="1378.90" y="468.0" width="4.45" height="26.5" rx="1.9"/><rect x="1378.90" y="471.0" width="4.45" height="23.5"/><rect x="1383.90" y="468.0" width="4.45" height="26.5" rx="1.9"/><rect x="1383.90" y="471.0" width="4.45" height="23.5"/><rect x="1388.90" y="468.0" width="4.45" height="26.5" rx="1.9"/><rect x="1388.90" y="471.0" width="4.45" height="23.5"/><rect x="1393.90" y="468.0" width="4.45" height="26.5" rx="1.9"/><rect x="1393.90" y="471.0" width="4.45" height="23.5"/><rect x="1398.90" y="470.0" width="4.45" height="24.5" rx="1.9"/><rect x="1398.90" y="473.0" width="4.45" height="21.5"/><rect x="1403.90" y="470.0" width="4.45" height="24.5" rx="1.9"/><rect x="1403.90" y="473.0" width="4.45" height="21.5"/><rect x="1408.90" y="470.0" width="4.45" height="24.5" rx="1.9"/><rect x="1408.90" y="473.0" width="4.45" height="21.5"/><rect x="1413.90" y="470.0" width="4.45" height="24.5" rx="1.9"/><rect x="1413.90" y="473.0" width="4.45" height="21.5"/><rect x="1418.90" y="470.0" width="4.45" height="24.5" rx="1.9"/><rect x="1418.90" y="473.0" width="4.45" height="21.5"/><rect x="1423.90" y="470.0" width="4.45" height="24.5" rx="1.9"/><rect x="1423.90" y="473.0" width="4.45" height="21.5"/><rect x="1433.90" y="470.0" width="4.45" height="24.5" rx="1.9"/><rect x="1433.90" y="473.0" width="4.45" height="21.5"/><rect x="1432.20" y="470.0" width="3.8" height="24.5" rx="1.9"/><rect x="1432.20" y="473.0" width="3.8" height="21.5"/></g>
<rect x="14" y="494" width="1424" height="2" fill="#eeeeee"/>

<!-- watermark -->
<g fill="none" stroke="#cfd6e0" stroke-width="3.8" stroke-linecap="round" stroke-linejoin="round">
<path d="M1164.7,413.1 A21.8,21.8 0 1 1 1171.3,397.8"/>
<path d="M1133.5,408.5 L1144.3,390.8 Q1146.8,387 1147.8,391.5 L1148.6,403 Q1149.2,407 1151.5,403.5 L1157.8,392.8 Q1160.5,388.5 1161.6,393 L1162.3,399.5 Q1163.5,405 1167,404.8 Q1171.3,404.3 1171.3,397.8"/>
</g>
<text transform="translate(1187.96,410) scale(1.0495,1)" font-size="30" fill="#cfd6e0" stroke="#cfd6e0" stroke-width="0.9" stroke-linejoin="round">CoinMarketCap</text>

<!-- area -->
<path d="M16.1,328.1 L25.2,392.0 L31.6,354.0 L33.3,309.7 L40.5,236.8 L45.6,273.0 L50.0,236.8 L54.2,248.6 L60.4,257.2 L65.3,190.0 L75.1,270.7 L81.3,290.4 L87.4,300.0 L89.9,300.0 L96.0,285.5 L100.9,281.0 L110.0,284.9 L114.3,267.1 L118.6,303.5 L124.4,312.0 L133.8,331.8 L138.7,262.0 L143.9,234.7 L149.3,261.4 L153.0,214.6 L158.8,197.4 L163.7,206.9 L168.8,204.0 L178.3,151.5 L183.8,183.0 L188.4,196.6 L193.2,174.5 L198.1,189.7 L202.7,183.0 L208.4,189.7 L213.9,181.5 L218.3,166.2 L223.6,170.6 L233.0,225.2 L237.3,205.1 L242.8,211.0 L248.3,228.5 L252.6,229.2 L262.5,255.4 L267.3,230.7 L272.3,241.0 L276.7,218.3 L282.1,220.4 L286.5,228.5 L292.0,247.5 L297.0,248.9 L301.8,255.4 L306.6,276.6 L313.8,264.6 L323.7,249.3 L331.5,237.1 L336.3,223.1 L346.8,232.7 L351.6,236.1 L356.0,258.7 L360.8,240.0 L365.9,249.1 L370.7,250.5 L375.5,263.3 L380.9,258.1 L386.0,258.1 L390.4,227.5 L396.2,238.0 L401.3,237.1 L405.2,216.6 L410.3,221.8 L415.1,173.9 L419.9,212.2 L424.9,212.2 L430.0,206.5 L434.9,196.1 L439.8,203.1 L445.1,213.8 L454.6,198.2 L459.2,179.0 L464.4,170.8 L469.3,172.5 L476.7,183.0 L484.1,200.3 L489.0,202.6 L493.9,197.4 L498.5,228.2 L504.1,229.3 L508.7,221.1 L514.4,216.7 L523.1,181.3 L528.4,174.4 L533.3,184.3 L538.2,183.4 L543.2,189.3 L548.2,184.8 L553.1,168.4 L558.0,173.9 L567.5,147.7 L572.8,143.3 L578.0,143.8 L583.9,126.1 L592.5,105.1 L597.4,149.0 L607.2,176.9 L612.1,157.2 L617.0,159.7 L622.3,133.0 L627.7,142.1 L632.6,143.8 L638.4,151.5 L647.4,174.9 L652.3,174.2 L656.8,167.0 L666.4,176.4 L676.2,189.5 L681.1,183.8 L686.1,199.8 L690.7,201.0 L696.2,194.4 L702.1,200.2 L706.6,209.2 L714.8,205.1 L721.3,202.1 L725.4,192.0 L730.7,155.9 L735.2,159.5 L741.0,173.1 L745.4,172.0 L750.3,149.0 L754.9,154.6 L760.5,160.8 L765.2,144.5 L770.2,159.0 L775.6,163.0 L784.9,189.7 L789.8,178.7 L794.8,186.9 L803.4,172.8 L809.5,167.9 L815.7,174.9 L819.8,175.7 L824.8,184.3 L833.8,188.9 L839.0,187.2 L849.3,206.9 L854.8,204.9 L858.7,190.5 L863.3,203.9 L868.5,231.5 L874.0,225.6 L878.2,225.6 L888.0,215.7 L893.3,215.1 L898.2,222.8 L902.8,220.7 L908.5,226.1 L913.0,226.6 L917.9,230.5 L922.8,226.1 L927.7,185.6 L937.2,190.5 L942.1,183.0 L952.0,185.9 L956.9,183.9 L962.6,184.3 L967.5,188.9 L972.5,171.1 L978.2,186.2 L984.8,197.5 L992.3,205.4 L996.4,205.7 L1001.6,204.1 L1006.6,209.0 L1012.0,205.7 L1016.9,197.9 L1023.0,193.4 L1026.7,174.3 L1031.6,236.1 L1036.1,225.4 L1041.0,262.3 L1046.4,263.1 L1051.3,261.5 L1056.2,258.2 L1061.1,227.0 L1066.1,209.8 L1070.5,197.9 L1075.9,201.1 L1080.8,186.9 L1085.2,230.0 L1090.5,245.0 L1100.7,240.3 L1106.4,240.0 L1114.6,239.0 L1119.5,224.8 L1125.2,214.1 L1134.6,189.8 L1140.8,193.1 L1144.9,205.9 L1150.3,210.0 L1155.2,208.9 L1159.7,256.7 L1164.6,256.7 L1169.5,243.9 L1174.4,235.7 L1178.9,236.7 L1183.8,220.7 L1188.4,219.3 L1194.1,214.1 L1199.0,217.4 L1204.0,208.3 L1213.1,210.7 L1218.9,208.2 L1223.8,210.7 L1229.2,215.6 L1233.6,229.0 L1238.5,221.8 L1243.4,226.7 L1248.4,220.2 L1253.3,225.1 L1258.2,224.6 L1263.1,213.9 L1268.0,209.8 L1273.0,220.2 L1277.9,204.9 L1282.8,198.4 L1288.2,197.2 L1293.4,203.3 L1298.0,214.8 L1303.3,211.5 L1307.4,199.2 L1312.5,212.2 L1317.1,214.2 L1322.1,222.1 L1326.9,219.6 L1332.2,220.8 L1336.6,207.1 L1342.0,209.6 L1347.3,207.9 L1356.2,209.3 L1362.4,211.4 L1366.8,211.9 L1376.6,172.9 L1381.4,193.3 L1386.4,191.5 L1391.2,174.1 L1396.1,188.8 L1400.6,191.5 L1405.9,185.8 L1415.7,194.2 L1423.7,196.5 L1435.5,201.5 L1435.5,328.5 L16.1,328.5 Z" fill="url(#gg)" clip-path="url(#aboveF)"/>
<path d="M16.1,328.1 L25.2,392.0 L31.6,354.0 L33.3,309.7 L40.5,236.8 L45.6,273.0 L50.0,236.8 L54.2,248.6 L60.4,257.2 L65.3,190.0 L75.1,270.7 L81.3,290.4 L87.4,300.0 L89.9,300.0 L96.0,285.5 L100.9,281.0 L110.0,284.9 L114.3,267.1 L118.6,303.5 L124.4,312.0 L133.8,331.8 L138.7,262.0 L143.9,234.7 L149.3,261.4 L153.0,214.6 L158.8,197.4 L163.7,206.9 L168.8,204.0 L178.3,151.5 L183.8,183.0 L188.4,196.6 L193.2,174.5 L198.1,189.7 L202.7,183.0 L208.4,189.7 L213.9,181.5 L218.3,166.2 L223.6,170.6 L233.0,225.2 L237.3,205.1 L242.8,211.0 L248.3,228.5 L252.6,229.2 L262.5,255.4 L267.3,230.7 L272.3,241.0 L276.7,218.3 L282.1,220.4 L286.5,228.5 L292.0,247.5 L297.0,248.9 L301.8,255.4 L306.6,276.6 L313.8,264.6 L323.7,249.3 L331.5,237.1 L336.3,223.1 L346.8,232.7 L351.6,236.1 L356.0,258.7 L360.8,240.0 L365.9,249.1 L370.7,250.5 L375.5,263.3 L380.9,258.1 L386.0,258.1 L390.4,227.5 L396.2,238.0 L401.3,237.1 L405.2,216.6 L410.3,221.8 L415.1,173.9 L419.9,212.2 L424.9,212.2 L430.0,206.5 L434.9,196.1 L439.8,203.1 L445.1,213.8 L454.6,198.2 L459.2,179.0 L464.4,170.8 L469.3,172.5 L476.7,183.0 L484.1,200.3 L489.0,202.6 L493.9,197.4 L498.5,228.2 L504.1,229.3 L508.7,221.1 L514.4,216.7 L523.1,181.3 L528.4,174.4 L533.3,184.3 L538.2,183.4 L543.2,189.3 L548.2,184.8 L553.1,168.4 L558.0,173.9 L567.5,147.7 L572.8,143.3 L578.0,143.8 L583.9,126.1 L592.5,105.1 L597.4,149.0 L607.2,176.9 L612.1,157.2 L617.0,159.7 L622.3,133.0 L627.7,142.1 L632.6,143.8 L638.4,151.5 L647.4,174.9 L652.3,174.2 L656.8,167.0 L666.4,176.4 L676.2,189.5 L681.1,183.8 L686.1,199.8 L690.7,201.0 L696.2,194.4 L702.1,200.2 L706.6,209.2 L714.8,205.1 L721.3,202.1 L725.4,192.0 L730.7,155.9 L735.2,159.5 L741.0,173.1 L745.4,172.0 L750.3,149.0 L754.9,154.6 L760.5,160.8 L765.2,144.5 L770.2,159.0 L775.6,163.0 L784.9,189.7 L789.8,178.7 L794.8,186.9 L803.4,172.8 L809.5,167.9 L815.7,174.9 L819.8,175.7 L824.8,184.3 L833.8,188.9 L839.0,187.2 L849.3,206.9 L854.8,204.9 L858.7,190.5 L863.3,203.9 L868.5,231.5 L874.0,225.6 L878.2,225.6 L888.0,215.7 L893.3,215.1 L898.2,222.8 L902.8,220.7 L908.5,226.1 L913.0,226.6 L917.9,230.5 L922.8,226.1 L927.7,185.6 L937.2,190.5 L942.1,183.0 L952.0,185.9 L956.9,183.9 L962.6,184.3 L967.5,188.9 L972.5,171.1 L978.2,186.2 L984.8,197.5 L992.3,205.4 L996.4,205.7 L1001.6,204.1 L1006.6,209.0 L1012.0,205.7 L1016.9,197.9 L1023.0,193.4 L1026.7,174.3 L1031.6,236.1 L1036.1,225.4 L1041.0,262.3 L1046.4,263.1 L1051.3,261.5 L1056.2,258.2 L1061.1,227.0 L1066.1,209.8 L1070.5,197.9 L1075.9,201.1 L1080.8,186.9 L1085.2,230.0 L1090.5,245.0 L1100.7,240.3 L1106.4,240.0 L1114.6,239.0 L1119.5,224.8 L1125.2,214.1 L1134.6,189.8 L1140.8,193.1 L1144.9,205.9 L1150.3,210.0 L1155.2,208.9 L1159.7,256.7 L1164.6,256.7 L1169.5,243.9 L1174.4,235.7 L1178.9,236.7 L1183.8,220.7 L1188.4,219.3 L1194.1,214.1 L1199.0,217.4 L1204.0,208.3 L1213.1,210.7 L1218.9,208.2 L1223.8,210.7 L1229.2,215.6 L1233.6,229.0 L1238.5,221.8 L1243.4,226.7 L1248.4,220.2 L1253.3,225.1 L1258.2,224.6 L1263.1,213.9 L1268.0,209.8 L1273.0,220.2 L1277.9,204.9 L1282.8,198.4 L1288.2,197.2 L1293.4,203.3 L1298.0,214.8 L1303.3,211.5 L1307.4,199.2 L1312.5,212.2 L1317.1,214.2 L1322.1,222.1 L1326.9,219.6 L1332.2,220.8 L1336.6,207.1 L1342.0,209.6 L1347.3,207.9 L1356.2,209.3 L1362.4,211.4 L1366.8,211.9 L1376.6,172.9 L1381.4,193.3 L1386.4,191.5 L1391.2,174.1 L1396.1,188.8 L1400.6,191.5 L1405.9,185.8 L1415.7,194.2 L1423.7,196.5 L1435.5,201.5 L1435.5,328.5 L16.1,328.5 Z" fill="url(#rg)" clip-path="url(#below)"/>
<line x1="16" y1="329" x2="1436" y2="329" stroke="#7f7f7f" stroke-width="2" stroke-dasharray="2 6"/>
<path d="M16.1,328.1 L25.2,392.0 L31.6,354.0 L33.3,309.7 L40.5,236.8 L45.6,273.0 L50.0,236.8 L54.2,248.6 L60.4,257.2 L65.3,190.0 L75.1,270.7 L81.3,290.4 L87.4,300.0 L89.9,300.0 L96.0,285.5 L100.9,281.0 L110.0,284.9 L114.3,267.1 L118.6,303.5 L124.4,312.0 L133.8,331.8 L138.7,262.0 L143.9,234.7 L149.3,261.4 L153.0,214.6 L158.8,197.4 L163.7,206.9 L168.8,204.0 L178.3,151.5 L183.8,183.0 L188.4,196.6 L193.2,174.5 L198.1,189.7 L202.7,183.0 L208.4,189.7 L213.9,181.5 L218.3,166.2 L223.6,170.6 L233.0,225.2 L237.3,205.1 L242.8,211.0 L248.3,228.5 L252.6,229.2 L262.5,255.4 L267.3,230.7 L272.3,241.0 L276.7,218.3 L282.1,220.4 L286.5,228.5 L292.0,247.5 L297.0,248.9 L301.8,255.4 L306.6,276.6 L313.8,264.6 L323.7,249.3 L331.5,237.1 L336.3,223.1 L346.8,232.7 L351.6,236.1 L356.0,258.7 L360.8,240.0 L365.9,249.1 L370.7,250.5 L375.5,263.3 L380.9,258.1 L386.0,258.1 L390.4,227.5 L396.2,238.0 L401.3,237.1 L405.2,216.6 L410.3,221.8 L415.1,173.9 L419.9,212.2 L424.9,212.2 L430.0,206.5 L434.9,196.1 L439.8,203.1 L445.1,213.8 L454.6,198.2 L459.2,179.0 L464.4,170.8 L469.3,172.5 L476.7,183.0 L484.1,200.3 L489.0,202.6 L493.9,197.4 L498.5,228.2 L504.1,229.3 L508.7,221.1 L514.4,216.7 L523.1,181.3 L528.4,174.4 L533.3,184.3 L538.2,183.4 L543.2,189.3 L548.2,184.8 L553.1,168.4 L558.0,173.9 L567.5,147.7 L572.8,143.3 L578.0,143.8 L583.9,126.1 L592.5,105.1 L597.4,149.0 L607.2,176.9 L612.1,157.2 L617.0,159.7 L622.3,133.0 L627.7,142.1 L632.6,143.8 L638.4,151.5 L647.4,174.9 L652.3,174.2 L656.8,167.0 L666.4,176.4 L676.2,189.5 L681.1,183.8 L686.1,199.8 L690.7,201.0 L696.2,194.4 L702.1,200.2 L706.6,209.2 L714.8,205.1 L721.3,202.1 L725.4,192.0 L730.7,155.9 L735.2,159.5 L741.0,173.1 L745.4,172.0 L750.3,149.0 L754.9,154.6 L760.5,160.8 L765.2,144.5 L770.2,159.0 L775.6,163.0 L784.9,189.7 L789.8,178.7 L794.8,186.9 L803.4,172.8 L809.5,167.9 L815.7,174.9 L819.8,175.7 L824.8,184.3 L833.8,188.9 L839.0,187.2 L849.3,206.9 L854.8,204.9 L858.7,190.5 L863.3,203.9 L868.5,231.5 L874.0,225.6 L878.2,225.6 L888.0,215.7 L893.3,215.1 L898.2,222.8 L902.8,220.7 L908.5,226.1 L913.0,226.6 L917.9,230.5 L922.8,226.1 L927.7,185.6 L937.2,190.5 L942.1,183.0 L952.0,185.9 L956.9,183.9 L962.6,184.3 L967.5,188.9 L972.5,171.1 L978.2,186.2 L984.8,197.5 L992.3,205.4 L996.4,205.7 L1001.6,204.1 L1006.6,209.0 L1012.0,205.7 L1016.9,197.9 L1023.0,193.4 L1026.7,174.3 L1031.6,236.1 L1036.1,225.4 L1041.0,262.3 L1046.4,263.1 L1051.3,261.5 L1056.2,258.2 L1061.1,227.0 L1066.1,209.8 L1070.5,197.9 L1075.9,201.1 L1080.8,186.9 L1085.2,230.0 L1090.5,245.0 L1100.7,240.3 L1106.4,240.0 L1114.6,239.0 L1119.5,224.8 L1125.2,214.1 L1134.6,189.8 L1140.8,193.1 L1144.9,205.9 L1150.3,210.0 L1155.2,208.9 L1159.7,256.7 L1164.6,256.7 L1169.5,243.9 L1174.4,235.7 L1178.9,236.7 L1183.8,220.7 L1188.4,219.3 L1194.1,214.1 L1199.0,217.4 L1204.0,208.3 L1213.1,210.7 L1218.9,208.2 L1223.8,210.7 L1229.2,215.6 L1233.6,229.0 L1238.5,221.8 L1243.4,226.7 L1248.4,220.2 L1253.3,225.1 L1258.2,224.6 L1263.1,213.9 L1268.0,209.8 L1273.0,220.2 L1277.9,204.9 L1282.8,198.4 L1288.2,197.2 L1293.4,203.3 L1298.0,214.8 L1303.3,211.5 L1307.4,199.2 L1312.5,212.2 L1317.1,214.2 L1322.1,222.1 L1326.9,219.6 L1332.2,220.8 L1336.6,207.1 L1342.0,209.6 L1347.3,207.9 L1356.2,209.3 L1362.4,211.4 L1366.8,211.9 L1376.6,172.9 L1381.4,193.3 L1386.4,191.5 L1391.2,174.1 L1396.1,188.8 L1400.6,191.5 L1405.9,185.8 L1415.7,194.2 L1423.7,196.5 L1435.5,201.5" fill="none" stroke="#16c784" stroke-width="4.2" stroke-linejoin="round" stroke-linecap="round" clip-path="url(#above)"/>
<path d="M16.1,328.1 L25.2,392.0 L31.6,354.0 L33.3,309.7 L40.5,236.8 L45.6,273.0 L50.0,236.8 L54.2,248.6 L60.4,257.2 L65.3,190.0 L75.1,270.7 L81.3,290.4 L87.4,300.0 L89.9,300.0 L96.0,285.5 L100.9,281.0 L110.0,284.9 L114.3,267.1 L118.6,303.5 L124.4,312.0 L133.8,331.8 L138.7,262.0 L143.9,234.7 L149.3,261.4 L153.0,214.6 L158.8,197.4 L163.7,206.9 L168.8,204.0 L178.3,151.5 L183.8,183.0 L188.4,196.6 L193.2,174.5 L198.1,189.7 L202.7,183.0 L208.4,189.7 L213.9,181.5 L218.3,166.2 L223.6,170.6 L233.0,225.2 L237.3,205.1 L242.8,211.0 L248.3,228.5 L252.6,229.2 L262.5,255.4 L267.3,230.7 L272.3,241.0 L276.7,218.3 L282.1,220.4 L286.5,228.5 L292.0,247.5 L297.0,248.9 L301.8,255.4 L306.6,276.6 L313.8,264.6 L323.7,249.3 L331.5,237.1 L336.3,223.1 L346.8,232.7 L351.6,236.1 L356.0,258.7 L360.8,240.0 L365.9,249.1 L370.7,250.5 L375.5,263.3 L380.9,258.1 L386.0,258.1 L390.4,227.5 L396.2,238.0 L401.3,237.1 L405.2,216.6 L410.3,221.8 L415.1,173.9 L419.9,212.2 L424.9,212.2 L430.0,206.5 L434.9,196.1 L439.8,203.1 L445.1,213.8 L454.6,198.2 L459.2,179.0 L464.4,170.8 L469.3,172.5 L476.7,183.0 L484.1,200.3 L489.0,202.6 L493.9,197.4 L498.5,228.2 L504.1,229.3 L508.7,221.1 L514.4,216.7 L523.1,181.3 L528.4,174.4 L533.3,184.3 L538.2,183.4 L543.2,189.3 L548.2,184.8 L553.1,168.4 L558.0,173.9 L567.5,147.7 L572.8,143.3 L578.0,143.8 L583.9,126.1 L592.5,105.1 L597.4,149.0 L607.2,176.9 L612.1,157.2 L617.0,159.7 L622.3,133.0 L627.7,142.1 L632.6,143.8 L638.4,151.5 L647.4,174.9 L652.3,174.2 L656.8,167.0 L666.4,176.4 L676.2,189.5 L681.1,183.8 L686.1,199.8 L690.7,201.0 L696.2,194.4 L702.1,200.2 L706.6,209.2 L714.8,205.1 L721.3,202.1 L725.4,192.0 L730.7,155.9 L735.2,159.5 L741.0,173.1 L745.4,172.0 L750.3,149.0 L754.9,154.6 L760.5,160.8 L765.2,144.5 L770.2,159.0 L775.6,163.0 L784.9,189.7 L789.8,178.7 L794.8,186.9 L803.4,172.8 L809.5,167.9 L815.7,174.9 L819.8,175.7 L824.8,184.3 L833.8,188.9 L839.0,187.2 L849.3,206.9 L854.8,204.9 L858.7,190.5 L863.3,203.9 L868.5,231.5 L874.0,225.6 L878.2,225.6 L888.0,215.7 L893.3,215.1 L898.2,222.8 L902.8,220.7 L908.5,226.1 L913.0,226.6 L917.9,230.5 L922.8,226.1 L927.7,185.6 L937.2,190.5 L942.1,183.0 L952.0,185.9 L956.9,183.9 L962.6,184.3 L967.5,188.9 L972.5,171.1 L978.2,186.2 L984.8,197.5 L992.3,205.4 L996.4,205.7 L1001.6,204.1 L1006.6,209.0 L1012.0,205.7 L1016.9,197.9 L1023.0,193.4 L1026.7,174.3 L1031.6,236.1 L1036.1,225.4 L1041.0,262.3 L1046.4,263.1 L1051.3,261.5 L1056.2,258.2 L1061.1,227.0 L1066.1,209.8 L1070.5,197.9 L1075.9,201.1 L1080.8,186.9 L1085.2,230.0 L1090.5,245.0 L1100.7,240.3 L1106.4,240.0 L1114.6,239.0 L1119.5,224.8 L1125.2,214.1 L1134.6,189.8 L1140.8,193.1 L1144.9,205.9 L1150.3,210.0 L1155.2,208.9 L1159.7,256.7 L1164.6,256.7 L1169.5,243.9 L1174.4,235.7 L1178.9,236.7 L1183.8,220.7 L1188.4,219.3 L1194.1,214.1 L1199.0,217.4 L1204.0,208.3 L1213.1,210.7 L1218.9,208.2 L1223.8,210.7 L1229.2,215.6 L1233.6,229.0 L1238.5,221.8 L1243.4,226.7 L1248.4,220.2 L1253.3,225.1 L1258.2,224.6 L1263.1,213.9 L1268.0,209.8 L1273.0,220.2 L1277.9,204.9 L1282.8,198.4 L1288.2,197.2 L1293.4,203.3 L1298.0,214.8 L1303.3,211.5 L1307.4,199.2 L1312.5,212.2 L1317.1,214.2 L1322.1,222.1 L1326.9,219.6 L1332.2,220.8 L1336.6,207.1 L1342.0,209.6 L1347.3,207.9 L1356.2,209.3 L1362.4,211.4 L1366.8,211.9 L1376.6,172.9 L1381.4,193.3 L1386.4,191.5 L1391.2,174.1 L1396.1,188.8 L1400.6,191.5 L1405.9,185.8 L1415.7,194.2 L1423.7,196.5 L1435.5,201.5" fill="none" stroke="#ea3943" stroke-width="4.2" stroke-linejoin="round" stroke-linecap="round" clip-path="url(#below)"/>

<rect x="21" y="310" width="85" height="44" rx="10" fill="#ffffff" fill-opacity="0.82"/>
<text transform="translate(27.98,340) scale(1.0151,1)" font-size="22" fill="#58667e">87.79K</text>

<!-- y labels -->
<text transform="translate(1447.86,108) scale(1.0947,1)" font-size="22" fill="#808a9d">88.50K</text>
<text transform="translate(1448.36,189) scale(1.0838,1)" font-size="22" fill="#808a9d">88.25K</text>
<text transform="translate(1447.91,269.5) scale(1.0913,1)" font-size="22" fill="#808a9d">88.00K</text>
<text transform="translate(1447.99,349.5) scale(1.0090,1)" font-size="22" fill="#808a9d">87.75K</text>
<text transform="translate(1447.96,430) scale(1.0399,1)" font-size="22" fill="#808a9d">87.50K</text>

<rect x="1436" y="176" width="102" height="52" rx="6" fill="#16c784"/>
<text transform="translate(1448.08,210) scale(0.9544,1)" font-size="23.5" fill="#ffffff">88.18K</text>

<!-- x labels -->
<text transform="translate(30.87,534) scale(1.0797,1)" font-size="22" fill="#808a9d">9:00 PM</text>
<text transform="translate(215.94,534) scale(1.0588,1)" font-size="22" fill="#808a9d">20 Dec</text>
<text transform="translate(385.87,534) scale(1.1132,1)" font-size="22" fill="#808a9d">3:00 AM</text>
<text transform="translate(562.85,534) scale(1.1147,1)" font-size="22" fill="#808a9d">6:00 AM</text>
<text transform="translate(739.85,534) scale(1.1146,1)" font-size="22" fill="#808a9d">9:00 AM</text>
<text transform="translate(911.90,534) scale(1.0672,1)" font-size="22" fill="#808a9d">12:00 PM</text>
<text transform="translate(1096.88,534) scale(1.0660,1)" font-size="22" fill="#808a9d">3:00 PM</text>
<text transform="translate(1273.93,534) scale(1.0685,1)" font-size="22" fill="#808a9d">6:00 PM</text>

<!-- history badge -->
<path d="M47.5,546 H92.8 A25.2,25.2 0 0 1 92.8,596.4 H47.5 A25.2,25.2 0 0 1 25.2,582 L16.4,570 L29.3,554.6 A25.2,25.2 0 0 1 47.5,546 Z" fill="#a6b0c3"/>
<g fill="none" stroke="#fff" stroke-width="2.5" stroke-linecap="round" stroke-linejoin="round">
<path d="M40.6,576.1 A10.1,10.1 0 1 0 39.3,563.3"/>
<path d="M48,562.8 V569.5 L53,572"/>
</g>
<path d="M35.5,565.2 L41.8,566.2 L37.4,569.8 Z" fill="#fff" stroke="#fff" stroke-width="1" stroke-linejoin="round"/>
<text transform="translate(67.91,578) scale(1.0302,1)" font-size="22" fill="#ffffff">128</text>

<!-- analyze button -->
<path d="M1286,548 H1340 L1348,540 L1356,548 H1410 A24,24 0 0 1 1410,596 H1286 A24,24 0 0 1 1286,548 Z" fill="#3861fb"/>
<g fill="none" stroke="#fff" stroke-width="2.5" stroke-linecap="round" stroke-linejoin="round">
<path d="M1296.6,580.7 A11.5,11.5 0 0 1 1284,581.5 L1278.5,583.5 L1279.8,577.5 A11.5,11.5 0 1 1 1301.5,571.3"/>
<path d="M1283,575.5 L1287.2,568.3 Q1288.5,566.5 1289.3,568.5 L1290,574.5 Q1290.5,576.5 1291.6,574.8 L1294.5,568.3 Q1295.6,566.5 1296.2,568.5 L1296.8,573 Q1297.5,576.5 1299.5,575.5 Q1301.5,574 1301.5,571.3"/>
<path d="M1404,567 L1411,574.5 L1404,582"/>
</g>
<text transform="translate(1310.91,579.6) scale(1.0558,1)" font-size="22" fill="#ffffff">Analyze</text>

<!-- navigator -->
<rect x="16" y="604" width="1420" height="2" fill="#f1f2f4"/>
<rect x="1434" y="604" width="2" height="82" fill="#f1f2f4"/>
<g fill="#f2f3f5">
<rect x="150.2" y="605" width="2" height="80"/><rect x="334.2" y="605" width="2" height="80"/><rect x="518.2" y="605" width="2" height="80"/><rect x="702.0" y="605" width="2" height="80"/><rect x="885.0" y="605" width="2" height="80"/><rect x="1068.3" y="605" width="2" height="80"/><rect x="1251.7" y="605" width="2" height="80"/>
</g>
<path d="M16.0,685.5 L300.0,685.2 L500.0,684.8 L640.0,684.0 L668.0,682.9 L689.8,680.7 L698.0,674.6 L704.8,676.9 L711.4,680.2 L718.0,679.0 L726.4,681.2 L733.0,679.5 L781.2,681.2 L786.0,682.9 L817.7,682.9 L827.7,680.5 L842.7,678.5 L849.3,678.2 L875.9,680.7 L888.3,680.6 L898.3,679.0 L906.6,681.8 L916.5,680.1 L924.9,679.0 L937.3,679.8 L943.1,678.1 L958.1,678.1 L969.7,674.0 L974.7,674.0 L981.3,664.9 L986.3,665.7 L988.8,658.2 L993.0,654.1 L996.3,654.9 L1004.6,650.2 L1007.9,652.9 L1012.0,651.9 L1014.6,659.9 L1018.7,664.5 L1021.2,662.4 L1023.7,665.2 L1028.7,665.7 L1032.8,659.0 L1037.0,656.9 L1042.0,654.9 L1045.3,659.9 L1051.1,649.9 L1055.2,648.6 L1058.1,646.2 L1061.1,651.9 L1063.6,652.4 L1066.0,656.9 L1067.7,658.2 L1071.0,656.2 L1074.4,660.7 L1077.7,662.9 L1081.0,659.9 L1086.0,661.2 L1088.5,662.9 L1092.6,658.5 L1095.9,659.9 L1100.9,662.4 L1105.1,667.3 L1110.9,667.3 L1113.4,672.8 L1119.2,673.2 L1127.5,671.5 L1132.5,673.5 L1137.9,674.3 L1148.8,673.7 L1151.8,675.6 L1163.7,675.2 L1168.6,672.3 L1177.5,671.3 L1182.5,669.3 L1189.4,668.3 L1201.3,669.3 L1208.2,667.3 L1220.1,668.3 L1223.1,669.7 L1233.0,669.3 L1237.9,665.3 L1246.8,663.0 L1249.8,660.4 L1256.7,658.4 L1259.7,661.0 L1264.7,657.4 L1268.6,653.5 L1271.6,643.6 L1274.6,644.0 L1280.5,644.0 L1282.5,646.5 L1289.4,644.6 L1296.3,645.1 L1300.3,649.1 L1304.3,647.1 L1308.2,647.5 L1311.2,651.1 L1315.1,648.5 L1319.1,651.5 L1322.1,648.5 L1328.0,646.5 L1332.0,643.6 L1334.0,634.1 L1339.9,629.7 L1342.9,623.8 L1345.8,629.7 L1348.8,625.7 L1355.7,626.7 L1359.7,629.7 L1364.7,637.6 L1367.6,635.2 L1371.6,637.6 L1374.6,631.7 L1378.5,625.7 L1382.5,621.8 L1386.4,620.8 L1390.0,622.3 L1393.0,616.2 L1398.0,616.5 L1402.0,617.0 L1405.0,618.2 L1408.0,620.5 L1410.5,618.0 L1413.0,617.0 L1416.0,612.8 L1418.0,612.5 L1420.0,617.0 L1423.0,618.8 L1426.0,620.5 L1429.0,623.0 L1434.0,627.0 L1434,685.5 L16,685.5 Z" fill="#eef1f4"/>
<rect x="16" y="685" width="1420" height="1" fill="#eceff2"/>
<text transform="translate(126.94,717.7) scale(1.0231,1)" font-size="22" fill="#808a9d">2012</text>
<text transform="translate(309.93,717.7) scale(1.0289,1)" font-size="22" fill="#808a9d">2014</text>
<text transform="translate(493.94,717.7) scale(1.0250,1)" font-size="22" fill="#808a9d">2016</text>
<text transform="translate(677.94,717.7) scale(1.0494,1)" font-size="22" fill="#808a9d">2018</text>
<text transform="translate(859.90,717.7) scale(1.1132,1)" font-size="22" fill="#808a9d">2020</text>
<text transform="translate(1043.90,717.7) scale(1.0962,1)" font-size="22" fill="#808a9d">2022</text>
<text transform="translate(1227.82,717.7) scale(1.1076,1)" font-size="22" fill="#808a9d">2024</text>

<circle cx="1434" cy="646" r="32" fill="url(#glow)"/>
<rect x="1420" y="624.5" width="28" height="39" rx="14" fill="#fff" filter="url(#sh)"/>
<rect x="1430" y="637" width="2" height="14" fill="#a6b0c3"/>
<rect x="1436" y="637" width="2" height="14" fill="#a6b0c3"/>
</svg>
</body></html>
